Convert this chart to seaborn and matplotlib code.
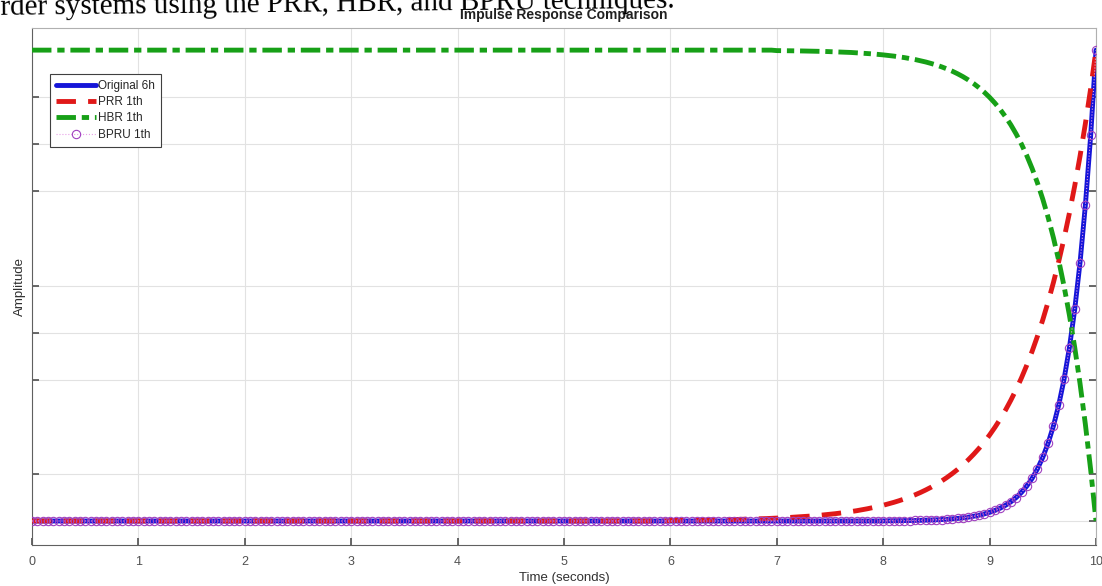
import numpy as np
import pandas as pd
from matplotlib import pyplot as plt
import seaborn as sns

# time grid, 0.05 s steps
time = np.round(np.arange(0, 10.0001, 0.05), 2)

# Original 6th order response: flat zero until ~8 s
original_tail = [0.0003, 0.0004, 0.0005, 0.0006, 0.0007, 0.0009, 0.0011, 0.0014, 0.0017, 0.0020,
                 0.0025, 0.0030, 0.0037, 0.0045, 0.0055, 0.0067, 0.0082, 0.0101, 0.0123, 0.0150,
                 0.0183, 0.0224, 0.0273, 0.0334, 0.0408, 0.0498, 0.0608, 0.0743, 0.0907, 0.1108,
                 0.1353, 0.1653, 0.2019, 0.2466, 0.3012, 0.3679, 0.4493, 0.5488, 0.6703, 0.8187,
                 1.0]
original = [0.0] * 160 + original_tail

# PRR 1st order: rises from ~6 s
prr_tail = [0.0011, 0.0012, 0.0013, 0.0014, 0.0016, 0.0017, 0.0019, 0.0020, 0.0022, 0.0024,
            0.0026, 0.0028, 0.0031, 0.0034, 0.0037, 0.0040, 0.0043, 0.0047, 0.0051, 0.0056,
            0.0061, 0.0066, 0.0072, 0.0079, 0.0086, 0.0093, 0.0102, 0.0110, 0.0120, 0.0131,
            0.0143, 0.0155, 0.0169, 0.0184, 0.0200, 0.0218, 0.0238, 0.0259, 0.0282, 0.0307,
            0.0334, 0.0364, 0.0396, 0.0431, 0.0469, 0.0511, 0.0556, 0.0605, 0.0659, 0.0717,
            0.0781, 0.0850, 0.0926, 0.1008, 0.1097, 0.1194, 0.1300, 0.1416, 0.1541, 0.1678,
            0.1827, 0.1989, 0.2165, 0.2357, 0.2567, 0.2794, 0.3042, 0.3312, 0.3606, 0.3926,
            0.4274, 0.4653, 0.5066, 0.5516, 0.6005, 0.6538, 0.7118, 0.7749, 0.8437, 0.9185,
            1.0]
prr = [0.0] * 120 + prr_tail

# HBR 1st order: flat at top, falls to zero at 10 s
hbr_tail = [0.9990, 0.9989, 0.9987, 0.9986, 0.9984, 0.9982, 0.9980, 0.9977, 0.9975, 0.9972,
            0.9968, 0.9964, 0.9960, 0.9955, 0.9950, 0.9943, 0.9936, 0.9929, 0.9920, 0.9910,
            0.9899, 0.9887, 0.9873, 0.9858, 0.9841, 0.9821, 0.9800, 0.9775, 0.9748, 0.9717,
            0.9683, 0.9644, 0.9600, 0.9552, 0.9497, 0.9436, 0.9367, 0.9290, 0.9203, 0.9106,
            0.8997, 0.8875, 0.8738, 0.8584, 0.8412, 0.8218, 0.8001, 0.7757, 0.7484, 0.7178,
            0.6834, 0.6448, 0.6015, 0.5529, 0.4984, 0.4373, 0.3687, 0.2918, 0.2055, 0.1086,
            0.0]
hbr = [1.0] * 140 + hbr_tail

# BPRU 1st order sits right on the original curve
bpru = list(original)

x_ticks = list(range(0, 11))
y_grid = [0, 0.1, 0.3, 0.4, 0.5, 0.7, 0.8, 0.9]

df = pd.DataFrame({'Time': time, 'Original': original, 'PRR': prr,
                   'HBR': hbr, 'BPRU': bpru})

sns.set_theme(style="white")
plt.rcParams['font.family'] = ['Liberation Sans', 'DejaVu Sans']

fig = plt.figure(figsize=(11.02, 5.86), dpi=100)
ax = fig.add_axes([32 / 1102, 1 - 545 / 586, 1064 / 1102, 517 / 586])

sns.lineplot(x='Time', y='Original', data=df, ax=ax, color='#1515d8',
             linewidth=3.5, label='Original 6h', zorder=3)
sns.lineplot(x='Time', y='PRR', data=df, ax=ax, color='#e01818',
             linewidth=3.5, label='PRR 1th', zorder=4)
ax.lines[-1].set_dashes((4, 2.5))
sns.lineplot(x='Time', y='HBR', data=df, ax=ax, color='#17a017',
             linewidth=3.5, label='HBR 1th', zorder=4)
ax.lines[-1].set_dashes((4, 1.2, 1.5, 1.2))
sns.lineplot(x='Time', y='BPRU', data=df, ax=ax, color='#e8a0e8',
             linewidth=0.8, linestyle=':', marker='o', markersize=6,
             markerfacecolor='none', markeredgecolor='#a040c0',
             markeredgewidth=0.8, label='BPRU 1th', zorder=5)

ax.set_xlim(0, 10)
ax.set_ylim(-0.051, 1.047)
ax.set_xticks(x_ticks)
ax.set_xticklabels([str(t) for t in x_ticks])
ax.set_yticks(y_grid)
ax.set_yticklabels([])
ax.grid(True, color='#e2e2e2', linewidth=0.8)
ax.tick_params(axis='both', direction='in', length=5, color='#555555',
               labelsize=9, labelcolor='#505050', left=True, bottom=True,
               right=True)
ax.tick_params(axis='x', pad=8)
for side, sp in ax.spines.items():
    sp.set_color('#b0b0b0' if side in ('top', 'right') else '#606060')
    sp.set_linewidth(0.8)

ax.set_xlabel('Time (seconds)', fontsize=9.5, color='#303030', labelpad=3)
ax.set_ylabel('Amplitude', fontsize=9.5, color='#303030', labelpad=1)
ax.set_title('Impulse Response Comparison', fontsize=10, fontweight='bold',
             color='#202020', pad=6.5)

leg = ax.legend(loc='upper left', bbox_to_anchor=(0.017, 0.911), fontsize=8.5,
                frameon=True, fancybox=False, framealpha=1, handlelength=3.4,
                labelspacing=0.36, borderpad=0.5, handletextpad=0.2,
                borderaxespad=0)
leg.get_frame().set_edgecolor('#404040')
leg.get_frame().set_linewidth(0.8)

# cropped sentence of the surrounding document, slightly tilted in the scan
fig.text(-0.013, 1 - 15 / 586, 'order systems using the PRR, HBR, and BPRU techniques.',
         fontsize=21, family=['Liberation Serif'], va='baseline', color='black',
         rotation=0.6, rotation_mode='anchor')

fig.savefig('out.png', dpi=100)
